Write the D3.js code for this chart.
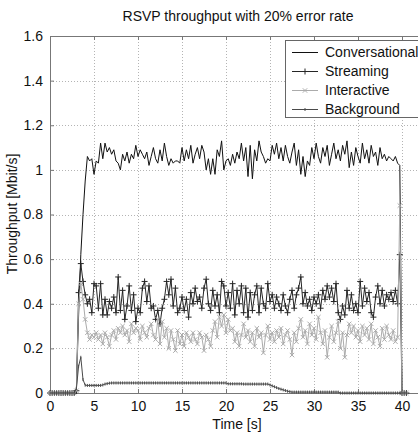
<!DOCTYPE html>
<html>
<head>
<meta charset="utf-8">
<script src="https://cdn.jsdelivr.net/npm/d3@7"></script>
<style>
  body{margin:0;background:#fff;}
  text{font-family:"Liberation Sans",Arial,sans-serif;fill:#111;}
</style>
</head>
<body>
<div id="chart"></div>
<script>
// sample step of the trace (seconds)
const step = 0.25;

const seriesNames = ['Conversational','Streaming','Interactive','Background'];
const xTicks = [0,5,10,15,20,25,30,35,40];
const yTicks = [0,0.2,0.4,0.6,0.8,1,1.2,1.4,1.6];

// one row per second (4 samples), last row 40.0-40.5
const conversational = [
 0,0,0,0, 0,0,0,0, 0,0,0,0,
 0.02,0.35,0.62,0.80,
 0.95,1.06,1.04,1.05,
 0.98,1.04,1.03,1.12,
 1.05,1.12,1.08,1.10,
 1.07,1.09,1.04,1.03,
 1.00,1.07,1.04,1.08,
 1.03,1.07,1.05,1.11,
 1.06,1.09,1.07,1.05,
 1.08,1.02,1.06,1.10,
 1.05,1.03,1.09,1.04,
 1.12,1.06,1.02,1.05,
 1.03,1.04,1.04,1.03,
 1.10,1.04,1.09,1.05,
 1.11,1.03,1.07,1.10,
 1.05,1.11,1.08,1.00,
 1.05,0.98,1.05,0.98,
 1.09,1.06,1.13,1.00,
 1.04,1.05,1.02,1.07,
 1.03,1.08,1.05,1.12,
 1.04,1.10,0.97,1.11,
 0.96,1.09,1.04,1.13,
 1.08,1.06,1.03,1.05,
 1.04,1.11,1.07,1.12,
 1.05,1.10,1.04,1.11,
 1.06,1.03,1.08,1.12,
 1.02,1.09,0.98,1.06,
 0.97,1.04,1.02,1.10,
 1.05,1.12,1.06,1.03,
 1.10,1.06,1.11,1.02,
 1.07,1.12,1.05,1.09,
 1.04,1.11,1.07,1.13,
 1.01,1.08,1.02,1.10,
 1.06,1.03,1.12,1.05,
 1.09,1.03,1.11,1.06,
 1.08,1.02,1.10,1.05,
 1.07,1.04,1.06,1.05,
 1.04,1.06,1.03,1.02,
 0,0,0
];

const streaming = [
 0,0,0,0, 0,0,0,0, 0,0,0,0,
 0.01,0.45,0.58,0.50,
 0.44,0.40,0.42,0.36,
 0.49,0.48,0.38,0.49,
 0.35,0.42,0.35,0.41,
 0.38,0.43,0.36,0.52,
 0.37,0.46,0.33,0.39,
 0.48,0.37,0.44,0.32,
 0.38,0.36,0.47,0.50,
 0.41,0.48,0.38,0.39,
 0.33,0.37,0.31,0.38,
 0.42,0.50,0.44,0.51,
 0.39,0.47,0.36,0.38,
 0.43,0.37,0.42,0.34,
 0.45,0.40,0.47,0.41,
 0.43,0.38,0.47,0.51,
 0.40,0.37,0.46,0.39,
 0.44,0.36,0.50,0.48,
 0.39,0.45,0.38,0.49,
 0.35,0.46,0.40,0.48,
 0.36,0.47,0.34,0.45,
 0.37,0.44,0.48,0.36,
 0.47,0.40,0.38,0.49,
 0.41,0.44,0.38,0.43,
 0.40,0.37,0.44,0.39,
 0.36,0.42,0.46,0.38,
 0.44,0.47,0.52,0.40,
 0.45,0.39,0.42,0.37,
 0.43,0.40,0.44,0.38,
 0.46,0.42,0.48,0.43,
 0.47,0.41,0.49,0.36,
 0.33,0.39,0.35,0.46,
 0.38,0.44,0.37,0.40,
 0.36,0.50,0.39,0.47,
 0.41,0.45,0.36,0.34,
 0.43,0.48,0.40,0.46,
 0.39,0.44,0.42,0.45,
 0.41,0.46,0.40,0.62,
 0,0,0
];

const interactive = [
 0,0,0,0, 0,0,0,0, 0,0,0,0,
 0.01,0.40,0.49,0.42,
 0.33,0.27,0.24,0.26,
 0.25,0.27,0.24,0.26,
 0.22,0.27,0.25,0.21,
 0.26,0.28,0.24,0.29,
 0.27,0.30,0.26,0.28,
 0.23,0.31,0.27,0.29,
 0.28,0.24,0.30,0.27,
 0.25,0.29,0.31,0.26,
 0.24,0.33,0.22,0.32,
 0.25,0.29,0.20,0.28,
 0.24,0.19,0.28,0.22,
 0.26,0.21,0.27,0.25,
 0.23,0.27,0.24,0.22,
 0.27,0.25,0.19,0.26,
 0.24,0.21,0.28,0.32,
 0.25,0.34,0.30,0.35,
 0.27,0.33,0.28,0.29,
 0.23,0.27,0.21,0.26,
 0.31,0.25,0.28,0.23,
 0.27,0.21,0.29,0.25,
 0.27,0.18,0.26,0.30,
 0.24,0.27,0.23,0.28,
 0.25,0.29,0.22,0.26,
 0.28,0.24,0.17,0.27,
 0.23,0.29,0.33,0.25,
 0.28,0.22,0.31,0.26,
 0.29,0.24,0.34,0.27,
 0.22,0.28,0.16,0.25,
 0.30,0.23,0.27,0.32,
 0.20,0.27,0.16,0.26,
 0.31,0.27,0.30,0.25,
 0.28,0.23,0.30,0.26,
 0.29,0.24,0.31,0.22,
 0.28,0.25,0.21,0.29,
 0.24,0.30,0.26,0.24,
 0.28,0.23,0.25,0.84,
 0,0,0
];

const background = [
 0,0,0,0, 0,0,0,0, 0,0,0,0,
 0.02,0.12,0.16,0.06,
 0.035,0.034,0.034,0.034,
 0.034,0.034,0.034,0.034,
 0.036,0.040,0.042,0.044,
 0.045,0.045,0.045,0.045,
 0.045,0.045,0.045,0.045,
 0.045,0.045,0.045,0.045,
 0.045,0.045,0.045,0.045,
 0.045,0.045,0.045,0.045,
 0.045,0.045,0.045,0.045,
 0.045,0.045,0.045,0.045,
 0.045,0.045,0.045,0.045,
 0.045,0.045,0.045,0.045,
 0.045,0.045,0.045,0.045,
 0.045,0.045,0.045,0.045,
 0.045,0.045,0.045,0.045,
 0.045,0.045,0.045,0.045,
 0.045,0.041,0.041,0.041,
 0.041,0.041,0.041,0.041,
 0.040,0.040,0.040,0.040,
 0.040,0.040,0.040,0.040,
 0.040,0.040,0.040,0.040,
 0.036,0.032,0.028,0.024,
 0.020,0.017,0.014,0.011,
 0.008,0.006,0.004,0.004,
 0.004,0.004,0.004,0.004,
 0.004,0.004,0.004,0.004,
 0.004,0.004,0.004,0.004,
 0.004,0.004,0.004,0.004,
 0.004,0.004,0.004,0.004,
 0,0,0,0, 0,0,0,0, 0,0,0,0, 0,0,0,0,
 0,0,0,0, 0,0,0,0, 0,0,0,0,
 0,0,0
];

const width = 418, height = 437;
const margin = {top:36, left:50, bottom:44};

const svg = d3.select('#chart')
  .append('svg')
  .attr('width', width)
  .attr('height', height);

svg.append('rect').attr('width', width).attr('height', height).attr('fill', '#fff');

// scales (right part of the axes box is cut off by the picture)
const x = d3.scaleLinear().domain([0, 42]).range([margin.left, margin.left + 42 * 8.8]);
const y = d3.scaleLinear().domain([0, 1.6]).range([height - margin.bottom, margin.top]);

// grid
const grid = svg.append('g')
  .attr('stroke', '#b4b4b4')
  .attr('stroke-dasharray', '1,2')
  .attr('stroke-width', 1);
grid.selectAll('.gx').data(xTicks.slice(1)).enter().append('line')
  .attr('x1', d => Math.round(x(d)) + 0.5).attr('x2', d => Math.round(x(d)) + 0.5)
  .attr('y1', y(1.6)).attr('y2', y(0));
grid.selectAll('.gy').data(yTicks.slice(1, -1)).enter().append('line')
  .attr('x1', x(0)).attr('x2', width)
  .attr('y1', d => Math.round(y(d)) + 0.5).attr('y2', d => Math.round(y(d)) + 0.5);

// axes, MATLAB style: ticks inside, box on top
const bottomAxis = d3.axisBottom(x).tickValues(xTicks).tickSizeInner(-4).tickSizeOuter(0).tickPadding(8);
const topAxis = d3.axisTop(x).tickValues(xTicks).tickSizeInner(-4).tickSizeOuter(0).tickFormat('');
const leftAxis = d3.axisLeft(y).tickValues(yTicks).tickSizeInner(-4).tickSizeOuter(0).tickPadding(7)
  .tickFormat(d => d === 0 || d === 1 ? d3.format('d')(d) : d3.format('.1f')(d));

function styleAxis(g) {
  g.select('.domain').attr('stroke', '#777');
  g.selectAll('.tick line').attr('stroke', '#777');
  g.selectAll('.tick text')
    .attr('fill', '#111')
    .style('font-family', '"Liberation Sans",Arial,sans-serif')
    .style('font-size', '14px');
}

svg.append('g').attr('transform', 'translate(0,' + Math.round(y(0)) + ')').call(bottomAxis).call(styleAxis);
svg.append('g').attr('transform', 'translate(0,' + Math.round(y(1.6)) + ')').call(topAxis).call(styleAxis);
svg.append('g').attr('transform', 'translate(' + margin.left + ',0)').call(leftAxis).call(styleAxis);

// series
const line = d3.line()
  .x((d, i) => x(i * step))
  .y(d => y(d));

function drawSeries(values, color, marker) {
  const g = svg.append('g');
  g.append('path')
    .datum(values)
    .attr('d', line)
    .attr('fill', 'none')
    .attr('stroke', color)
    .attr('stroke-width', 1);
  if (marker) {
    g.selectAll('path.m').data(values).enter().append('path')
      .attr('class', 'm')
      .attr('transform', (d, i) => 'translate(' + x(i * step) + ',' + y(d) + ')')
      .attr('d', marker)
      .attr('fill', 'none')
      .attr('stroke', color)
      .attr('stroke-width', 1);
  }
}

const plusMarker = 'M-3,0H3M0,-3V3';
const crossMarker = 'M-2.2,-2.2L2.2,2.2M-2.2,2.2L2.2,-2.2';
const dotMarker = 'M0,-1.5V1.5';

drawSeries(conversational, '#111', null);
drawSeries(streaming, '#262626', plusMarker);
drawSeries(interactive, '#ababab', crossMarker);
drawSeries(background, '#4a4a4a', dotMarker);

// title and labels
svg.append('text')
  .attr('x', 238).attr('y', 21)
  .attr('text-anchor', 'middle')
  .style('font-size', '14px')
  .text('RSVP throughput with 20% error rate');

svg.append('text')
  .attr('x', 237).attr('y', 429)
  .attr('text-anchor', 'middle')
  .style('font-size', '14px')
  .text('Time [s]');

svg.append('text')
  .attr('transform', 'translate(17,' + 214 + ') rotate(-90)')
  .attr('text-anchor', 'middle')
  .style('font-size', '14px')
  .text('Throughput [Mbit/s]');

// legend
const legend = svg.append('g');
legend.append('rect')
  .attr('x', 285.5).attr('y', 40.5)
  .attr('width', 140).attr('height', 77)
  .attr('fill', '#fff')
  .attr('stroke', '#666');

const legendStyles = [
  {color:'#111', marker:null},
  {color:'#262626', marker:plusMarker},
  {color:'#ababab', marker:crossMarker},
  {color:'#4a4a4a', marker:dotMarker}
];

seriesNames.forEach((name, i) => {
  const ly = 52 + i * 19;
  legend.append('line')
    .attr('x1', 292).attr('x2', 318)
    .attr('y1', ly + 0.5).attr('y2', ly + 0.5)
    .attr('stroke', legendStyles[i].color);
  if (legendStyles[i].marker) {
    legend.append('path')
      .attr('transform', 'translate(305,' + (ly + 0.5) + ')')
      .attr('d', legendStyles[i].marker)
      .attr('fill', 'none')
      .attr('stroke', legendStyles[i].color);
  }
  legend.append('text')
    .attr('x', 325).attr('y', ly + 5)
    .style('font-size', '14px')
    .text(name);
});
</script>
</body>
</html>
